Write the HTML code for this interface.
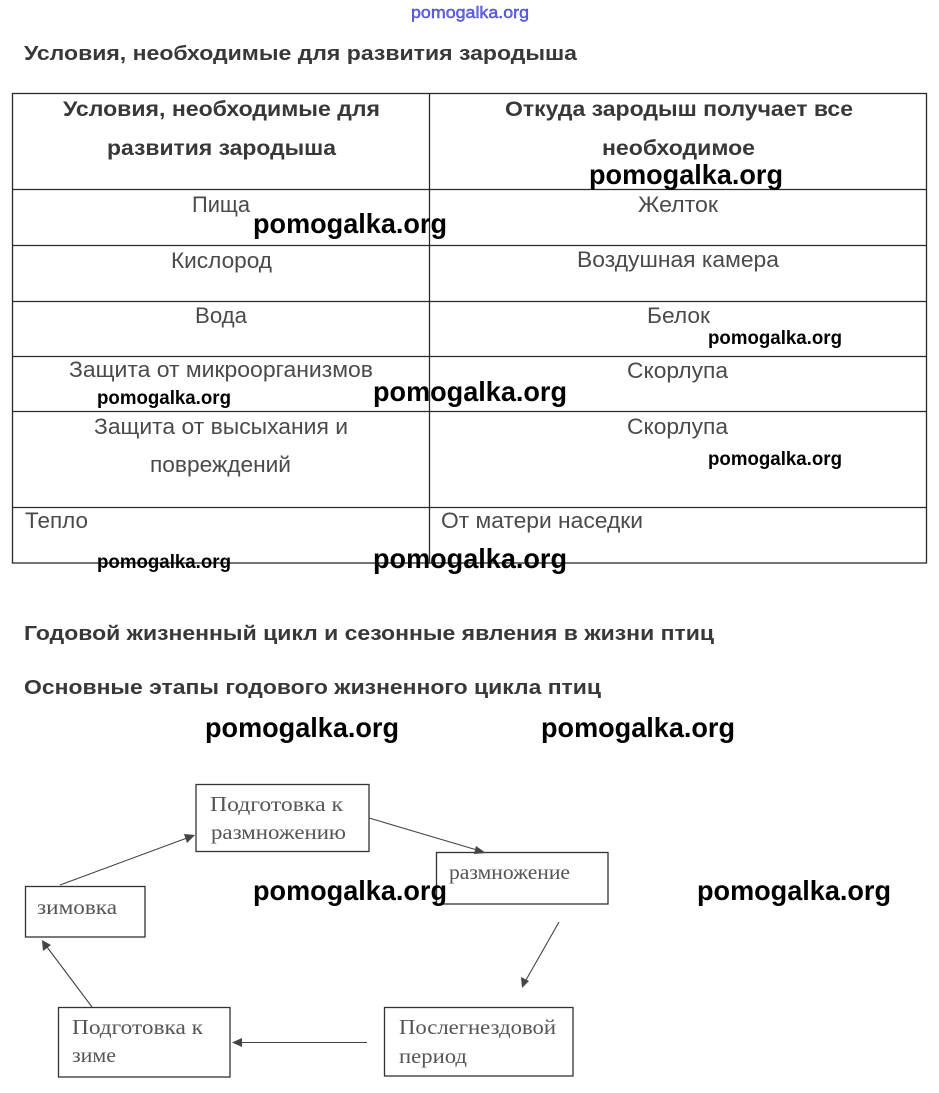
<!DOCTYPE html>
<html>
<head>
<meta charset="utf-8">
<style>
html,body{margin:0;padding:0;background:#fff;}
svg{display:block;}
.sans{font-family:"Liberation Sans","DejaVu Sans",sans-serif;}
.serif{font-family:"Liberation Serif","DejaVu Serif",serif;}
.h{font-size:20px;font-weight:bold;fill:#383838;}
.hc{font-size:21px;font-weight:bold;fill:#383838;}
.c{font-size:22px;fill:#4a4a4a;}
.wl{font-size:28px;font-weight:bold;fill:#000;}
.ws{font-size:19px;font-weight:bold;fill:#000;}
.d{font-size:21px;fill:#555;}
</style>
</head>
<body>
<svg width="939" height="1093" viewBox="0 0 939 1093" xmlns="http://www.w3.org/2000/svg">
<rect width="939" height="1093" fill="#fff"/>

<!-- top link -->
<text class="sans" x="411" y="18" font-size="17" fill="#6a6ae0" stroke="#3333cc" stroke-width="0.4" textLength="118" lengthAdjust="spacingAndGlyphs">pomogalka.org</text>

<!-- title -->
<text class="sans h" x="24" y="60" textLength="553" lengthAdjust="spacingAndGlyphs">Условия, необходимые для развития зародыша</text>

<!-- table -->
<g stroke="#2a2a2a" stroke-width="1.3" fill="none">
<rect x="12.5" y="93.5" width="914" height="469.5"/>
<line x1="429.5" y1="93.5" x2="429.5" y2="563"/>
<line x1="12.5" y1="189.5" x2="926.5" y2="189.5"/>
<line x1="12.5" y1="245.5" x2="926.5" y2="245.5"/>
<line x1="12.5" y1="301.5" x2="926.5" y2="301.5"/>
<line x1="12.5" y1="356.5" x2="926.5" y2="356.5"/>
<line x1="12.5" y1="411.5" x2="926.5" y2="411.5"/>
<line x1="12.5" y1="507.5" x2="926.5" y2="507.5"/>
</g>

<g class="sans">
<text class="hc" x="63" y="116" textLength="317" lengthAdjust="spacingAndGlyphs">Условия, необходимые для</text>
<text class="hc" x="107" y="155" textLength="229" lengthAdjust="spacingAndGlyphs">развития зародыша</text>
<text class="hc" x="505" y="116" textLength="348" lengthAdjust="spacingAndGlyphs">Откуда зародыш получает все</text>
<text class="hc" x="602" y="155" textLength="153" lengthAdjust="spacingAndGlyphs">необходимое</text>

<text class="c" x="192" y="212" textLength="58" lengthAdjust="spacingAndGlyphs">Пища</text>
<text class="c" x="171" y="268" textLength="101" lengthAdjust="spacingAndGlyphs">Кислород</text>
<text class="c" x="195" y="323" textLength="52" lengthAdjust="spacingAndGlyphs">Вода</text>
<text class="c" x="69" y="377" textLength="304" lengthAdjust="spacingAndGlyphs">Защита от микроорганизмов</text>
<text class="c" x="94" y="434" textLength="254" lengthAdjust="spacingAndGlyphs">Защита от высыхания и</text>
<text class="c" x="150" y="472" textLength="141" lengthAdjust="spacingAndGlyphs">повреждений</text>
<text class="c" x="25" y="528" textLength="63" lengthAdjust="spacingAndGlyphs">Тепло</text>

<text class="c" x="638" y="212" textLength="80" lengthAdjust="spacingAndGlyphs">Желток</text>
<text class="c" x="577" y="267" textLength="202" lengthAdjust="spacingAndGlyphs">Воздушная камера</text>
<text class="c" x="647" y="323" textLength="63" lengthAdjust="spacingAndGlyphs">Белок</text>
<text class="c" x="627" y="378" textLength="101" lengthAdjust="spacingAndGlyphs">Скорлупа</text>
<text class="c" x="627" y="434" textLength="101" lengthAdjust="spacingAndGlyphs">Скорлупа</text>
<text class="c" x="441" y="528" textLength="202" lengthAdjust="spacingAndGlyphs">От матери наседки</text>

<text class="h" x="24" y="640" textLength="690" lengthAdjust="spacingAndGlyphs">Годовой жизненный цикл и сезонные явления в жизни птиц</text>
<text class="h" x="24" y="694" textLength="577" lengthAdjust="spacingAndGlyphs">Основные этапы годового жизненного цикла птиц</text>
</g>

<!-- diagram boxes -->
<g stroke="#333" stroke-width="1.3" fill="#fff">
<rect x="196" y="784.5" width="173" height="67"/>
<rect x="436.5" y="852.5" width="171.5" height="51.5"/>
<rect x="25.5" y="886.5" width="119.5" height="50.5"/>
<rect x="58.5" y="1007.5" width="171.5" height="69.5"/>
<rect x="384.5" y="1007.5" width="188.5" height="68.5"/>
</g>

<!-- arrows -->
<g stroke="#444" stroke-width="1.1" fill="none">
<line x1="60" y1="885" x2="187" y2="838"/>
<line x1="369" y1="818" x2="477" y2="850"/>
<line x1="559" y1="922" x2="526" y2="980"/>
<line x1="367" y1="1042.5" x2="240" y2="1042.5"/>
<line x1="92" y1="1007" x2="47" y2="947"/>
</g>
<g fill="#444">
<polygon points="195,835 184,834 187,843"/>
<polygon points="486,853 476,846 474,854"/>
<polygon points="522,988 521,977 529,981"/>
<polygon points="232,1042.5 242,1038 242,1047"/>
<polygon points="42,940 43,951 51,945"/>
</g>

<!-- diagram text -->
<g class="serif">
<text class="d" x="210" y="811" textLength="133" lengthAdjust="spacingAndGlyphs">Подготовка к</text>
<text class="d" x="211" y="839" textLength="135" lengthAdjust="spacingAndGlyphs">размножению</text>
<text class="d" x="449" y="879" textLength="121" lengthAdjust="spacingAndGlyphs">размножение</text>
<text class="d" x="37" y="914" textLength="80" lengthAdjust="spacingAndGlyphs">зимовка</text>
<text class="d" x="72" y="1034" textLength="131" lengthAdjust="spacingAndGlyphs">Подготовка к</text>
<text class="d" x="72" y="1062" textLength="44" lengthAdjust="spacingAndGlyphs">зиме</text>
<text class="d" x="399" y="1034" textLength="157" lengthAdjust="spacingAndGlyphs">Послегнездовой</text>
<text class="d" x="399" y="1063" textLength="68" lengthAdjust="spacingAndGlyphs">период</text>
</g>

<!-- watermarks -->
<g class="sans">
<text class="wl" x="589" y="184" textLength="194" lengthAdjust="spacingAndGlyphs">pomogalka.org</text>
<text class="wl" x="253" y="233" textLength="194" lengthAdjust="spacingAndGlyphs">pomogalka.org</text>
<text class="wl" x="373" y="401" textLength="194" lengthAdjust="spacingAndGlyphs">pomogalka.org</text>
<text class="wl" x="373" y="568" textLength="194" lengthAdjust="spacingAndGlyphs">pomogalka.org</text>
<text class="wl" x="205" y="737" textLength="194" lengthAdjust="spacingAndGlyphs">pomogalka.org</text>
<text class="wl" x="541" y="737" textLength="194" lengthAdjust="spacingAndGlyphs">pomogalka.org</text>
<text class="wl" x="253" y="900" textLength="194" lengthAdjust="spacingAndGlyphs">pomogalka.org</text>
<text class="wl" x="697" y="900" textLength="194" lengthAdjust="spacingAndGlyphs">pomogalka.org</text>

<text class="ws" x="708" y="344" textLength="134" lengthAdjust="spacingAndGlyphs">pomogalka.org</text>
<text class="ws" x="97" y="404" textLength="134" lengthAdjust="spacingAndGlyphs">pomogalka.org</text>
<text class="ws" x="708" y="465" textLength="134" lengthAdjust="spacingAndGlyphs">pomogalka.org</text>
<text class="ws" x="97" y="568" textLength="134" lengthAdjust="spacingAndGlyphs">pomogalka.org</text>
</g>
</svg>
</body>
</html>
